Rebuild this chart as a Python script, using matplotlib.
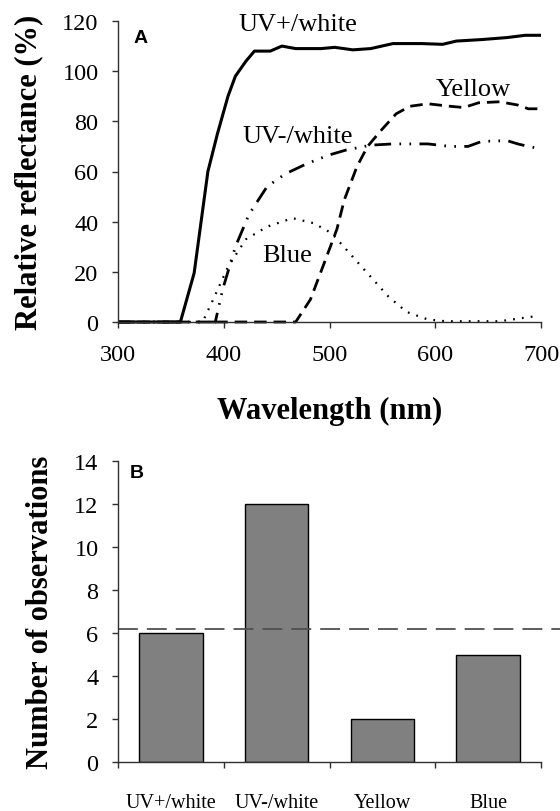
import matplotlib.pyplot as plt
from matplotlib.ticker import FixedLocator, NullFormatter

plt.rcParams['font.family'] = ['Liberation Serif', 'DejaVu Serif']

# Panel A: reflectance spectra
uvp_nm = [300, 359, 372, 385, 394, 404, 411, 421, 429, 444, 455, 468, 492, 505, 522, 539, 560, 587, 607, 620, 644, 668, 685, 700]
uvp_r = [0, 0, 19.5, 60, 75, 90, 98, 104, 108, 108, 110, 109, 109, 109.5, 108.5, 109, 111, 111, 110.7, 112, 112.6, 113.4, 114.3, 114.3]

uvm_nm = [300, 392, 399, 411, 424, 441, 458, 478, 499, 516, 539, 560, 593, 614, 631, 644, 668, 678, 688, 698]
uvm_r = [0, 0, 13, 30, 43, 54, 59, 63, 66.5, 68.6, 70.5, 71, 71, 70, 70, 72, 72.3, 71, 70, 69.2]

yel_nm = [300, 468, 482, 495, 507, 514, 526, 536, 549, 563, 576, 593, 614, 627, 641, 661, 678, 688, 698]
yel_r = [0, 0, 9, 23.5, 37, 48.7, 62, 70, 76.5, 83, 86, 87, 86, 85.5, 87.4, 87.8, 86.5, 85, 85]

blu_nm = [300, 380, 390, 404, 421, 441, 465, 485, 502, 522, 539, 556, 573, 593, 610, 661, 698]
blu_r = [0, 0, 9, 22, 33, 38, 41.4, 39.4, 35.4, 26, 18, 10, 4, 1, 0.3, 0.3, 2.5]

# Panel B: counts
categories = ['UV+/white', 'UV-/white', 'Yellow', 'Blue']
counts = [6, 12, 2, 5]
expected = 6.2

fig = plt.figure(figsize=(5.6, 8.12), dpi=100)
W, H = 560, 812
axA = fig.add_axes([118 / W, 1 - 323 / H, 423 / W, 301 / H])
axB = fig.add_axes([118 / W, 1 - 763 / H, 423 / W, 301 / H])

for ax in (axA, axB):
    ax.spines['top'].set_visible(False)
    ax.spines['right'].set_visible(False)
    for s in ('left', 'bottom'):
        ax.spines[s].set_color('#303030')
        ax.spines[s].set_linewidth(1.0)
    ax.tick_params(direction='out', length=4, width=1, color='#303030', labelsize=17.5)
    ax.tick_params(axis='y', pad=10)

# panel A
axA.plot(uvp_nm, uvp_r, color='black', lw=2.2, solid_capstyle='butt', clip_on=False)
axA.plot(uvm_nm, uvm_r, color='black', lw=2.0, dashes=(6, 3, 0.6, 3, 0.6, 3), clip_on=False)
axA.plot(yel_nm, yel_r, color='black', lw=2.0, dashes=(4.5, 2.5), clip_on=False)
axA.plot(blu_nm, blu_r, color='black', lw=1.6, dashes=(0.8, 3.2), clip_on=False)
axA.set_xlim(300, 700)
axA.set_ylim(0, 120)
axA.set_xticks([300, 400, 500, 600, 700])
axA.set_yticks(range(0, 121, 20))
axA.tick_params(axis='x', pad=12)
axA.set_xlabel('Wavelength (nm)', fontsize=22, fontweight='bold', labelpad=22)
axA.set_ylabel('Relative reflectance (%)', fontsize=22, fontweight='bold', labelpad=14)
axA.text(470, 119, 'UV+/white', fontsize=19, ha='center', va='center')
axA.text(636, 92.7, 'Yellow', fontsize=19, ha='center', va='center')
axA.text(470, 74, 'UV-/white', fontsize=19, ha='center', va='center')
axA.text(460, 26.8, 'Blue', fontsize=19, ha='center', va='center')
axA.text(321, 113.6, 'A', fontsize=14, fontweight='bold', family=['Liberation Sans'],
         ha='center', va='center')

# panel B
x = range(len(categories))
axB.bar(x, counts, width=0.6, color='#808080', edgecolor='black', linewidth=1.0)
axB.axhline(expected, xmin=0, xmax=1.05, color='#505050', lw=1.3, dashes=(11, 5), clip_on=False)
axB.set_xlim(-0.5, 3.5)
axB.set_ylim(0, 14)
axB.set_yticks(range(0, 15, 2))
axB.set_xticks(list(x))
axB.set_xticklabels(categories, fontsize=14.5)
axB.xaxis.set_minor_locator(FixedLocator([-0.5, 0.5, 1.5, 2.5, 3.5]))
axB.xaxis.set_minor_formatter(NullFormatter())
axB.tick_params(axis='x', which='major', length=0, pad=22)
axB.tick_params(axis='x', which='minor', direction='out', length=4, width=1, color='#303030')
axB.set_ylabel('Number of observations', fontsize=22, fontweight='bold', labelpad=14)
axB.text(-0.32, 13.46, 'B', fontsize=14, fontweight='bold', family=['Liberation Sans'],
         ha='center', va='center')

fig.savefig('out.png', dpi=100)
